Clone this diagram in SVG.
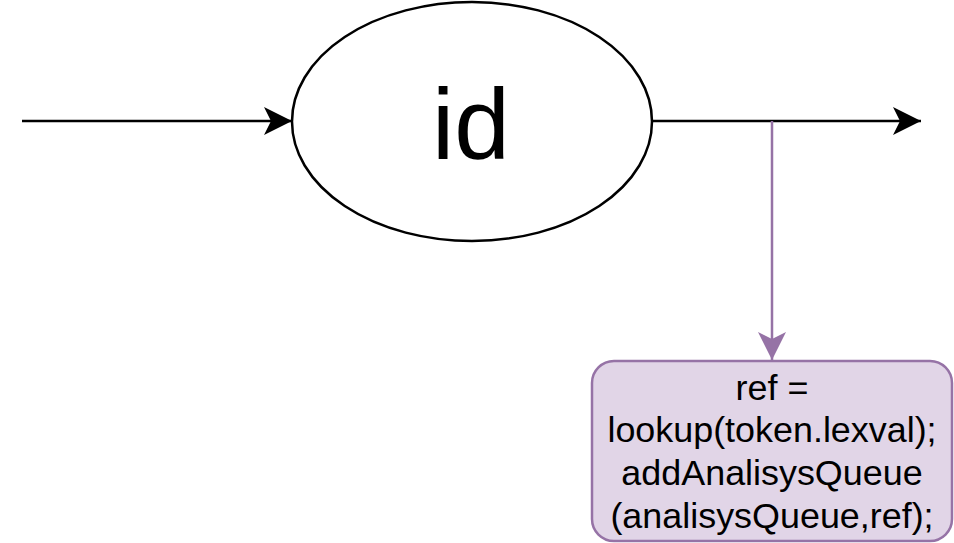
<svg xmlns="http://www.w3.org/2000/svg" width="954" height="543" viewBox="0 0 954 543">
<style>
.lbl{font-family:"Liberation Sans",Arial,sans-serif;fill:#000;text-anchor:middle}
.blk{stroke:#000;stroke-width:2.5;fill:none}
.pur{stroke:#9673a6;stroke-width:2.5;fill:none}
</style>
<defs>
<marker id="ab" markerUnits="userSpaceOnUse" markerWidth="30" markerHeight="30" refX="28" refY="14" orient="auto" viewBox="0 0 30 30">
<path d="M28,14 L0,0 L7,14 L0,28 Z" fill="#000"/>
</marker>
<marker id="ap" markerUnits="userSpaceOnUse" markerWidth="30" markerHeight="30" refX="28" refY="14" orient="auto" viewBox="0 0 30 30">
<path d="M28,14 L0,0 L7,14 L0,28 Z" fill="#9673a6"/>
</marker>
</defs>
<g id="connectors">
<line class="blk" x1="22" y1="121" x2="292" y2="121" marker-end="url(#ab)"/>
<line class="blk" x1="652" y1="121" x2="921" y2="121" marker-end="url(#ab)"/>
<line class="pur" x1="772" y1="121" x2="772" y2="360" marker-end="url(#ap)"/>
</g>
<g id="node-id">
<ellipse cx="472" cy="121.5" rx="180" ry="119.5" fill="#fff" stroke="#000" stroke-width="2.5"/>
<text class="lbl" x="471" y="159" font-size="100">id</text>
</g>
<g id="node-action">
<rect x="592" y="361" width="360" height="180" rx="22" ry="22" fill="#e1d5e7" stroke="#9673a6" stroke-width="2.5"/>
<text class="lbl" x="772" y="399.5" font-size="35.9">ref =</text>
<text class="lbl" x="772" y="442.3" font-size="35.9">lookup(token.lexval);</text>
<text class="lbl" x="772" y="485.1" font-size="35.9">addAnalisysQueue</text>
<text class="lbl" x="772" y="527.9" font-size="35.9">(analisysQueue,ref);</text>
</g>
</svg>
